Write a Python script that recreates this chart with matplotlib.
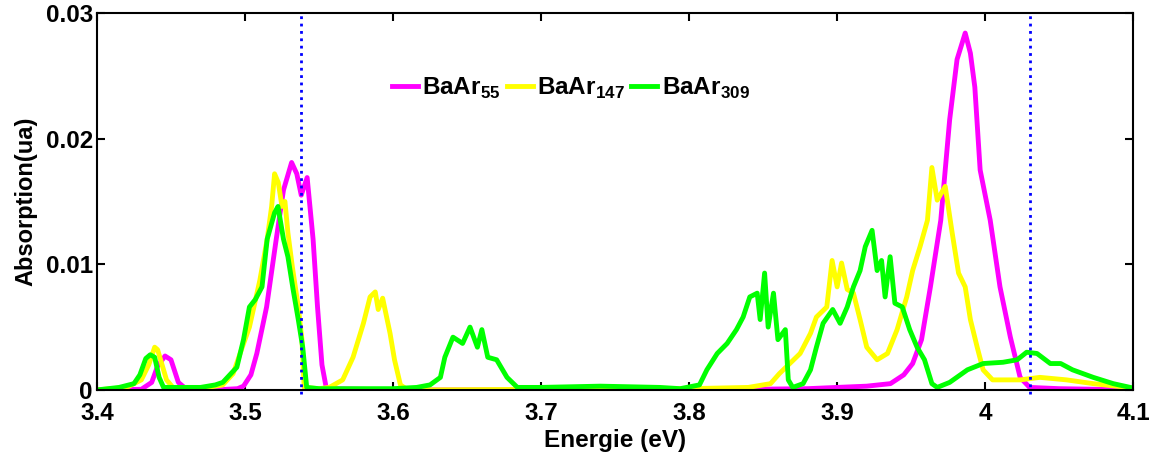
import numpy as np
import matplotlib
matplotlib.use('Agg')
import matplotlib.pyplot as plt

plt.rcParams['font.family'] = ['Liberation Sans', 'DejaVu Sans']
plt.rcParams['font.weight'] = 'bold'
plt.rcParams['mathtext.fontset'] = 'custom'
plt.rcParams['mathtext.bf'] = 'Liberation Sans:bold'
plt.rcParams['mathtext.rm'] = 'Liberation Sans:bold'

# BaAr55 (magenta)
x55 = [3.40, 3.43, 3.437, 3.441, 3.446, 3.450, 3.455, 3.46, 3.48, 3.495, 3.499, 3.504,
       3.508, 3.5146, 3.521, 3.526, 3.5315, 3.535, 3.538, 3.542, 3.546, 3.549, 3.552,
       3.555, 3.60, 3.80, 3.88, 3.92, 3.936, 3.945, 3.951, 3.957, 3.963, 3.970, 3.976,
       3.981, 3.9865, 3.990, 3.993, 3.9966, 4.0034, 4.010, 4.017, 4.0236, 4.030, 4.05, 4.10]
y55 = [0, 0.00005, 0.0006, 0.0019, 0.0027, 0.0024, 0.0006, 0.0001, 0, 0.0001, 0.0003, 0.0012,
       0.0029, 0.0066, 0.0119, 0.0159, 0.0181, 0.0172, 0.0155, 0.0169, 0.012, 0.0066, 0.002,
       0.0001, 0, 0, 0.0001, 0.0003, 0.0005, 0.0012, 0.0021, 0.0040, 0.0082, 0.0135, 0.0215,
       0.0263, 0.0284, 0.0268, 0.0241, 0.0175, 0.0135, 0.0082, 0.0042, 0.001, 0.0002, 0.0001, 0.0]

# BaAr147 (jaune)
x147 = [3.40, 3.42, 3.43, 3.435, 3.439, 3.441, 3.444, 3.447, 3.452, 3.47, 3.485, 3.492,
        3.497, 3.503, 3.510, 3.515, 3.518, 3.520, 3.5225, 3.525, 3.527, 3.529, 3.532, 3.536,
        3.5385, 3.540, 3.55, 3.557, 3.566, 3.573, 3.580, 3.5845, 3.588, 3.590, 3.593, 3.598,
        3.601, 3.605, 3.61, 3.80, 3.84, 3.855, 3.861, 3.868, 3.875, 3.882, 3.886, 3.893,
        3.8966, 3.900, 3.903, 3.9068, 3.911, 3.9155, 3.920, 3.927, 3.934, 3.9405, 3.947,
        3.951, 3.956, 3.961, 3.964, 3.9676, 3.973, 3.9777, 3.982, 3.9865, 3.990, 3.9946,
        3.9986, 4.005, 4.0236, 4.037, 4.055, 4.073, 4.096, 4.10]
y147 = [0, 0.0002, 0.0008, 0.002, 0.0034, 0.0032, 0.002, 0.0008, 0.0001, 0.0001, 0.0004, 0.0013,
        0.0030, 0.005, 0.0087, 0.012, 0.0146, 0.0172, 0.0165, 0.0146, 0.0150, 0.0125, 0.0098, 0.0066,
        0.004, 0.0002, 0.0001, 0.0002, 0.0008, 0.0026, 0.0053, 0.0074, 0.0078, 0.0064, 0.0073, 0.0045,
        0.0024, 0.0004, 0, 0.0001, 0.0002, 0.0005, 0.0013, 0.0021, 0.0029, 0.0045, 0.0058, 0.0066,
        0.0103, 0.0082, 0.0101, 0.008, 0.0077, 0.0056, 0.0034, 0.0024, 0.0029, 0.0048, 0.0074,
        0.0095, 0.0114, 0.0135, 0.0177, 0.0151, 0.0162, 0.0125, 0.0093, 0.0082, 0.0056, 0.0034,
        0.0016, 0.0008, 0.0008, 0.001, 0.0008, 0.0005, 0.0002, 0.0001]

# BaAr309 (vert)
x309 = [3.40, 3.415, 3.425, 3.429, 3.433, 3.436, 3.439, 3.442, 3.445, 3.47, 3.48, 3.485,
        3.4945, 3.499, 3.503, 3.507, 3.5115, 3.515, 3.520, 3.5223, 3.526, 3.529, 3.5325, 3.536,
        3.539, 3.5417, 3.55, 3.60, 3.616, 3.625, 3.632, 3.635, 3.6405, 3.647, 3.652, 3.657,
        3.660, 3.664, 3.670, 3.677, 3.684, 3.70, 3.74, 3.78, 3.794, 3.807, 3.812, 3.819,
        3.8257, 3.832, 3.8365, 3.841, 3.846, 3.848, 3.851, 3.8534, 3.857, 3.860, 3.865, 3.867,
        3.870, 3.877, 3.882, 3.886, 3.8905, 3.897, 3.902, 3.9068, 3.911, 3.9155, 3.919, 3.9236,
        3.927, 3.930, 3.9324, 3.9358, 3.939, 3.944, 3.949, 3.954, 3.959, 3.964, 3.9676, 3.976,
        3.988, 3.9986, 4.012, 4.0216, 4.028, 4.035, 4.044, 4.051, 4.059, 4.073, 4.0865, 4.098]
y309 = [0, 0.0002, 0.0005, 0.0012, 0.0025, 0.0028, 0.0026, 0.001, 0.0002, 0.0002, 0.0004, 0.0006,
        0.0018, 0.004, 0.0066, 0.0072, 0.0082, 0.012, 0.0141, 0.0146, 0.012, 0.0106, 0.008, 0.0056,
        0.0034, 0.0002, 0.0001, 0.0001, 0.0002, 0.0004, 0.001, 0.0026, 0.0042, 0.0037, 0.005, 0.0034,
        0.0048, 0.0026, 0.0024, 0.001, 0.0002, 0.0002, 0.0003, 0.0002, 0.0001, 0.0004, 0.0016, 0.0029,
        0.0037, 0.0048, 0.0058, 0.0074, 0.0077, 0.0056, 0.0093, 0.005, 0.0077, 0.004, 0.0048, 0.0008,
        0.0002, 0.0005, 0.0016, 0.0034, 0.0053, 0.0064, 0.0053, 0.0066, 0.0082, 0.0095, 0.0114, 0.0127,
        0.0095, 0.0103, 0.0074, 0.0106, 0.0069, 0.0066, 0.0048, 0.0034, 0.0024, 0.0005, 0.0002, 0.0006,
        0.0016, 0.0021, 0.0022, 0.0024, 0.003, 0.0029, 0.0021, 0.0021, 0.0016, 0.001, 0.0005, 0.0002]

lignes_v = [3.538, 4.030]

fig = plt.figure(figsize=(11.54, 4.62), dpi=100)
ax = fig.add_axes([0.084, 0.156, 0.898, 0.816])

ax.plot(x55, y55, color='#ff00ff', lw=3.5, label=r'BaAr$_{\mathbf{55}}$')
ax.plot(x147, y147, color='#ffff00', lw=3.5, label=r'BaAr$_{\mathbf{147}}$')
ax.plot(x309, y309, color='#00ff00', lw=3.5, label=r'BaAr$_{\mathbf{309}}$')
for xv in lignes_v:
    ax.axvline(xv, color='blue', lw=2, linestyle=':', clip_on=False, ymin=-0.01, ymax=1.0)

ax.set_xlim(3.4, 4.1)
ax.set_ylim(0, 0.03)
ax.set_xticks([3.4, 3.5, 3.6, 3.7, 3.8, 3.9, 4.0, 4.1])
ax.set_xticklabels(['3.4', '3.5', '3.6', '3.7', '3.8', '3.9', '4', '4.1'])
ax.set_yticks([0, 0.01, 0.02, 0.03])
ax.set_yticklabels(['0', '0.01', '0.02', '0.03'])
ax.tick_params(direction='in', length=6, width=1.5, top=True, right=True, labelsize=17.5)
ax.tick_params(axis='x', pad=8.5)
ax.tick_params(axis='y', pad=3)
for s in ax.spines.values():
    s.set_linewidth(1.5)

ax.set_xlabel('Energie (eV)', fontsize=17.5, fontweight='bold', labelpad=3)
ax.set_ylabel('Absorption(ua)', fontsize=17, fontweight='bold', labelpad=6)

leg = ax.legend(loc='center left', bbox_to_anchor=(392 / 1154, 1 - 88 / 462),
                bbox_transform=fig.transFigure, ncol=3, frameon=False, fontsize=17.5,
                handlelength=1.05, handletextpad=0.2, columnspacing=0.25,
                borderpad=0, borderaxespad=0)

fig.savefig('out.png', dpi=100)
